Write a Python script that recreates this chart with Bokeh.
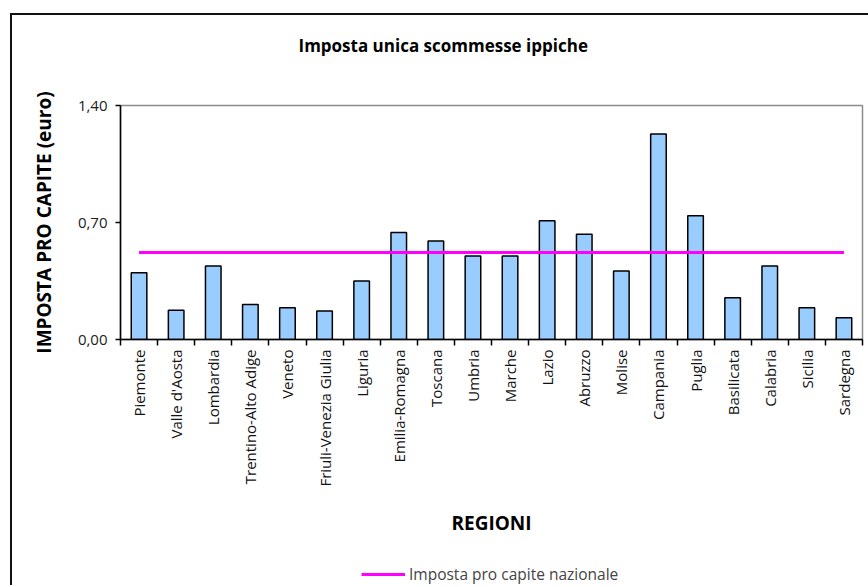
import math
from bokeh.plotting import figure
from bokeh.layouts import column
from bokeh.models import Range1d, FixedTicker, Legend, LegendItem, Title, ColumnDataSource
from bokeh.embed import file_html
from bokeh.resources import INLINE

regions = ["Piemonte", "Valle d'Aosta", "Lombardia", "Trentino-Alto Adige", "Veneto",
           "Friuli-Venezia Giulia", "Liguria", "Emilia-Romagna", "Toscana", "Umbria",
           "Marche", "Lazio", "Abruzzo", "Molise", "Campania", "Puglia", "Basilicata",
           "Calabria", "Sicilia", "Sardegna"]
values = [0.40, 0.175, 0.44, 0.21, 0.19, 0.17, 0.35, 0.64, 0.59, 0.50,
          0.50, 0.71, 0.63, 0.41, 1.23, 0.74, 0.25, 0.44, 0.19, 0.13]
national_value = 0.52
y_ticks = [0.0, 0.7, 1.4]
y_tick_labels = ["0,00", "0,70", "1,40"]

title_text = "Imposta unica scommesse ippiche"
y_label = "IMPOSTA PRO CAPITE (euro)"
x_label = "REGIONI"
legend_label = "Imposta pro capite nazionale"

FONT = "Open Sans"
MAGENTA = "#ff00ff"

idx = list(range(len(regions)))
src = ColumnDataSource(dict(x=idx, top=values, name=regions))
nat_src = ColumnDataSource(dict(x=[idx[0], idx[-1]], y=[national_value, national_value]))

p = figure(width=856, height=530,
           x_range=Range1d(-0.5, len(regions) - 0.5), y_range=Range1d(0, 1.4),
           output_backend="svg", toolbar_location=None,
           min_border_left=108, min_border_right=6, min_border_top=90, min_border_bottom=206)

p.xgrid.visible = False
p.ygrid.visible = False
p.outline_line_color = "#8c8c8c"
p.outline_line_width = 1.5
p.background_fill_color = "white"
p.border_fill_color = "white"

p.vbar(x="x", top="top", bottom=0, width=0.42, source=src,
       fill_color="#99ccff", line_color="black", line_width=1.5)
p.line(x="x", y="y", source=nat_src, line_color=MAGENTA, line_width=3)

# x axis
xa = p.xaxis[0]
xa.ticker = FixedTicker(ticks=idx, minor_ticks=[i - 0.5 for i in range(len(regions) + 1)])
xa.major_label_overrides = {i: r for i, r in zip(idx, regions)}
xa.major_label_orientation = math.pi / 2
xa.major_tick_line_color = None
xa.minor_tick_line_color = "black"
xa.minor_tick_line_width = 1.5
xa.minor_tick_in = 0
xa.minor_tick_out = 6
xa.major_label_standoff = 4
xa.major_label_text_font = FONT
xa.major_label_text_font_size = "15px"
xa.major_label_text_color = "#111111"
xa.axis_line_color = "black"
xa.axis_line_width = 1.5
xa.axis_label = x_label
xa.axis_label_text_font = FONT
xa.axis_label_text_font_style = "bold"
xa.axis_label_text_font_size = "19px"
xa.axis_label_text_color = "black"
xa.axis_label_standoff = 20

# y axis
ya = p.yaxis[0]
ya.ticker = FixedTicker(ticks=y_ticks, minor_ticks=[])
ya.major_label_overrides = {t: l for t, l in zip(y_ticks, y_tick_labels)}
ya.major_tick_in = 0
ya.major_tick_out = 5
ya.major_tick_line_color = "black"
ya.major_tick_line_width = 1.5
ya.minor_tick_line_color = None
ya.axis_line_color = "black"
ya.axis_line_width = 1.5
ya.major_label_text_font = FONT
ya.major_label_text_font_size = "15px"
ya.major_label_text_color = "#222222"
ya.major_label_standoff = 8
ya.axis_label = y_label
ya.axis_label_text_font = FONT
ya.axis_label_text_font_style = "bold"
ya.axis_label_text_font_size = "19px"
ya.axis_label_text_color = "black"
ya.axis_label_standoff = 18

# title, with a spacer between it and the frame
p.add_layout(Title(text=" ", text_font_size="29px"), "above")
p.add_layout(Title(text=title_text, align="left", offset=178,
                   text_font=FONT, text_font_style="bold", text_font_size="17px",
                   text_color="black"), "above")

# legend strip under the chart (its frame is aligned with the chart's frame)
p2 = figure(width=856, height=40, x_range=Range1d(0, 1), y_range=Range1d(2, 3),
            output_backend="svg", toolbar_location=None,
            min_border_left=0, min_border_right=0, min_border_top=0, min_border_bottom=0)
p2.axis.visible = False
p2.grid.visible = False
p2.outline_line_color = None
p2.background_fill_color = "white"
p2.border_fill_color = "white"
r_leg = p2.line(x="x", y="y", source=nat_src, line_color=MAGENTA, line_width=3)
legend = Legend(items=[LegendItem(label=legend_label, renderers=[r_leg])],
                location=(241, 0), orientation="horizontal",
                border_line_color=None, background_fill_alpha=0,
                label_text_font=FONT, label_text_font_size="15.5px",
                glyph_width=44, glyph_height=16, label_height=16,
                label_standoff=4, padding=0, margin=0, spacing=0)
p2.add_layout(legend, "center")

layout = column(p, p2, spacing=0)
layout.styles = {"margin-left": "10px", "margin-top": "13px",
                 "border-left": "2px solid #111111", "border-top": "2px solid #111111"}

open("out.html", "w").write(file_html(layout, INLINE))
